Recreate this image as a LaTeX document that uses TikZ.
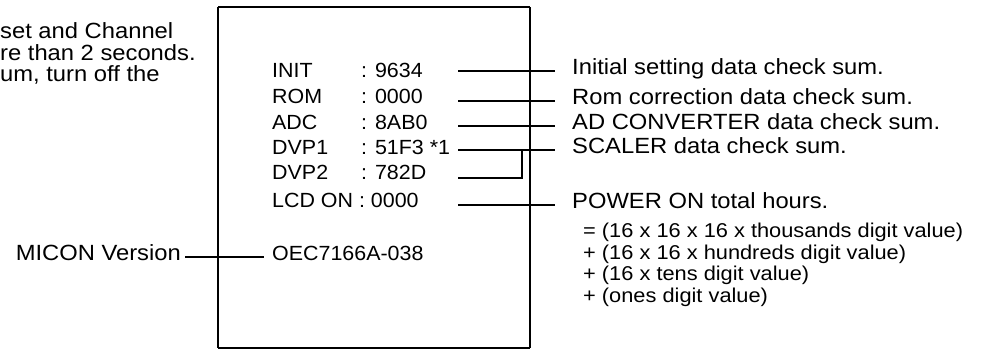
\documentclass[tikz,border=0pt]{standalone}
\usepackage{fontspec}
\setmainfont{Liberation Sans}
\newfontfamily\outfont[FakeStretch=1.08]{Liberation Sans}
\newfontfamily\boxfont[FakeStretch=1.045]{Liberation Sans}
\newfontfamily\subfont[FakeStretch=1.09]{Liberation Sans}
\begin{document}
\begin{tikzpicture}[x=1pt,y=-1pt,
  base/.style={inner sep=0pt, anchor=west, text height=0.716em, text depth=0pt},
  txt/.style={base, font=\outfont\fontsize{22}{26}\selectfont},
  boxtxt/.style={base, font=\boxfont\fontsize{20.5}{24}\selectfont},
  subtxt/.style={base, font=\subfont\fontsize{20}{24}\selectfont},
  lab/.style={txt, inner xsep=17pt},
  conn/.style={line width=1.6pt},
  frame/.style={line width=1.4pt}]
\useasboundingbox (0,0) rectangle (981,349);

% box
\draw[frame] (218,7) -- (530,7);
\draw[frame] (218,348) -- (530,348);
\draw[line width=2pt] (218,7) -- (218,348);
\draw[line width=2pt] (530,7) -- (530,348);

% top-left clipped paragraph
\node[txt] (p1) at (0,35) {set and Channel};
\node[txt] (p2) at (0,57) {re than 2 seconds.};
\node[txt] (p3) at (0,78) {um, turn off the};

% box entries
\node[boxtxt] (k1) at (272,74) {INIT};
\node[boxtxt] (v1) at (361,74) {: 9634};
\node[boxtxt] (k2) at (272,100) {ROM};
\node[boxtxt] (v2) at (361,100) {: 0000};
\node[boxtxt] (k3) at (272,125.5) {ADC};
\node[boxtxt] (v3) at (361,125.5) {: 8AB0};
\node[boxtxt] (k4) at (272,150.5) {DVP1};
\node[boxtxt] (v4) at (361,150.5) {: 51F3 *1};
\node[boxtxt] (k5) at (272,176) {DVP2};
\node[boxtxt] (v5) at (361,176) {: 782D};
\node[boxtxt] (k6) at (272,203.5) {LCD ON : 0000};
\node[boxtxt, inner xsep=8pt] (oec) at (264,257) {OEC7166A-038};
\node[txt, anchor=east, inner xsep=4pt] (micon) at (185,257) {MICON Version};

% right labels
\node[lab] (r1) at (555,71) {Initial setting data check sum.};
\node[lab] (r2) at (555,101) {Rom correction data check sum.};
\node[lab] (r3) at (555,126) {AD CONVERTER data check sum.};
\node[lab] (r4) at (555,150) {SCALER data check sum.};
\node[lab] (r5) at (555,205) {POWER ON total hours.};
\node[subtxt] (s1) at (583,234) {= (16 x 16 x 16 x thousands digit value)};
\node[subtxt] (s2) at (583,255.5) {+ (16 x 16 x hundreds digit value)};
\node[subtxt] (s3) at (583,277) {+ (16 x tens digit value)};
\node[subtxt] (s4) at (583,298.5) {+ (ones digit value)};

% line start points
\coordinate (c1) at (458,71);
\coordinate (c2) at (458,101);
\coordinate (c3) at (458,126);
\coordinate (c4) at (458,150);
\coordinate (c5) at (458,178);
\coordinate (c6) at (458,205);
\coordinate (bk) at (522,178);

\draw[conn] (c1) -- (r1.west);
\draw[conn] (c2) -- (r2.west);
\draw[conn] (c3) -- (r3.west);
\draw[conn] (c4) -- (r4.west);
\draw[conn] (c5) -- (bk) -- (bk |- c4);
\draw[conn] (c6) -- (r5.west);
\draw[conn] (micon.east) -- (oec.west);
\end{tikzpicture}
\end{document}
